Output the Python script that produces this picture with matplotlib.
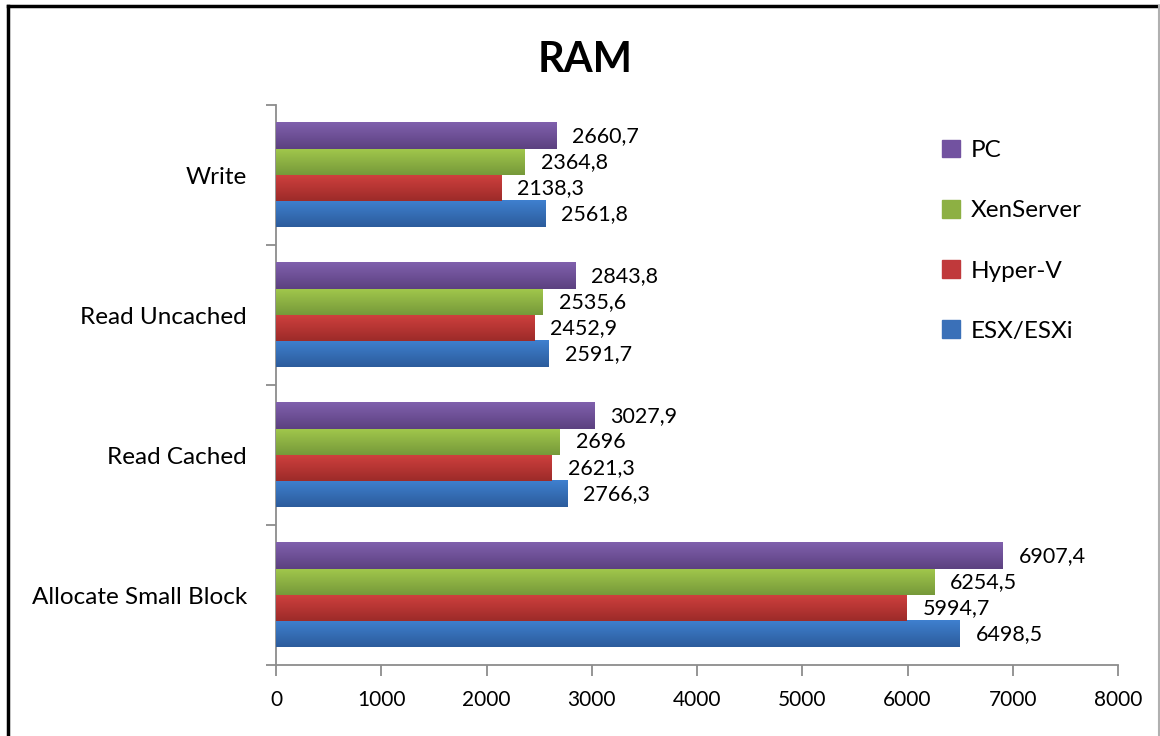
import matplotlib.pyplot as plt
import matplotlib.colors as mcolors
from matplotlib.patches import Rectangle
from matplotlib.lines import Line2D
import numpy as np

plt.rcParams['font.family'] = ['Lato', 'DejaVu Sans']

categories = ['Allocate Small Block', 'Read Cached', 'Read Uncached', 'Write']
series = ['ESX/ESXi', 'Hyper-V', 'XenServer', 'PC']
esx = [6498.5, 2766.3, 2591.7, 2561.8]
hyperv = [5994.7, 2621.3, 2452.9, 2138.3]
xen = [6254.5, 2696, 2535.6, 2364.8]
pc = [6907.4, 3027.9, 2843.8, 2660.7]
values = [esx, hyperv, xen, pc]
xticks = [0, 1000, 2000, 3000, 4000, 5000, 6000, 7000, 8000]

# top / bottom shade of each series gradient
shades = [('#3f80cf', '#2c5c9c'), ('#d0403e', '#9c2b29'),
          ('#a2c84c', '#76993a'), ('#8060ad', '#5c4180')]
mid = ['#3a70b8', '#c0393b', '#8db043', '#7252a0']

fig = plt.figure(figsize=(11.6, 7.36), dpi=100)
ax = fig.add_axes([0.238, 0.0965, 0.7258, 0.7605])

h = 0.186
y = np.arange(len(categories))
offs = [-1.5 * h, -0.5 * h, 0.5 * h, 1.5 * h]

for i, vals in enumerate(values):
    bars = ax.barh(y + offs[i], vals, height=h, color=mid[i], label=series[i],
                   zorder=2)
    cmap = mcolors.LinearSegmentedColormap.from_list('g', [shades[i][1], shades[i][0]])
    grad = np.linspace(0, 1, 64).reshape(-1, 1)
    for b, v in zip(bars, vals):
        x0, y0 = b.get_x(), b.get_y()
        ax.imshow(grad, extent=[x0, x0 + b.get_width(), y0, y0 + b.get_height()],
                  cmap=cmap, aspect='auto', origin='lower', zorder=3)
        ax.text(v + 150, y0 + h / 2, f'{v:g}'.replace('.', ','), va='center',
                ha='left', fontsize=15.5, color='black', zorder=4)

ax.set_xlim(0, 8000)
ax.set_ylim(-0.5, len(categories) - 0.5)
ax.set_xticks(xticks)
ax.set_xticklabels([str(t) for t in xticks], fontsize=15)
ax.set_yticks(y)
ax.set_yticklabels(categories, fontsize=17.5)
ax.set_yticks(np.arange(-0.5, len(categories)), minor=True)
ax.tick_params(axis='y', which='major', length=0, pad=21)
ax.tick_params(axis='y', which='minor', length=7, color='#8c8c8c', width=1.3)
ax.tick_params(axis='x', length=8, color='#8c8c8c', width=1.3, pad=10)
for s in ['top', 'right']:
    ax.spines[s].set_visible(False)
for s in ['left', 'bottom']:
    ax.spines[s].set_color('#8c8c8c')
    ax.spines[s].set_linewidth(1.3)

fig.text(0.504, 0.918, 'RAM', ha='center', va='center', fontsize=30,
         fontweight='bold')

handles = [Rectangle((0, 0), 1, 1, color=mid[i]) for i in range(4)][::-1]
fig.legend(handles, series[::-1], loc='upper left', bbox_to_anchor=(0.793, 0.840),
           frameon=False, fontsize=17.5, handlelength=0.75, handleheight=0.75,
           labelspacing=1.6, handletextpad=0.45)

fig.add_artist(Line2D([8 / 1160, 8 / 1160], [0, 1 - 6 / 736], color='black',
                      lw=2.5, transform=fig.transFigure))
fig.add_artist(Line2D([8 / 1160, 1], [1 - 6 / 736, 1 - 6 / 736], color='black',
                      lw=2.5, transform=fig.transFigure))
fig.add_artist(Line2D([1159 / 1160, 1159 / 1160], [0, 1 - 6 / 736],
                      color='#b0b0b0', lw=1.5, transform=fig.transFigure))

fig.savefig('out.png', dpi=100)
